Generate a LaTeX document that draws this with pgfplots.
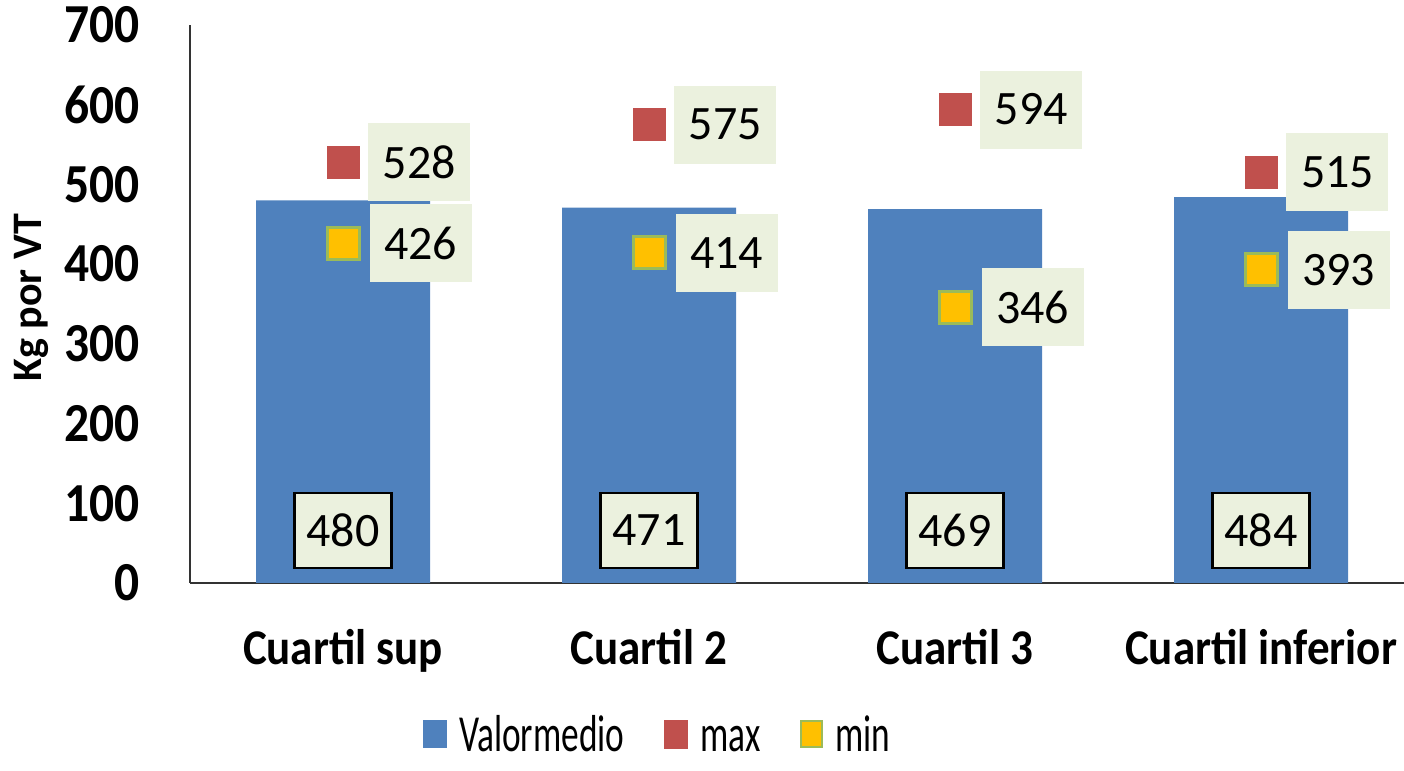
\documentclass[border=0pt]{standalone}
\usepackage{pgfplots}
\pgfplotsset{compat=1.18}
\usepackage{fontspec}
\setmainfont{Carlito}
\newfontfamily\tickfont[FakeStretch=0.9]{Carlito}
\newfontfamily\legfont[FakeStretch=0.68]{Carlito}
\definecolor{barblue}{HTML}{4F81BD}
\definecolor{maxred}{HTML}{C0504D}
\definecolor{minyel}{HTML}{FFC000}
\definecolor{mingreen}{HTML}{9BBB59}
\definecolor{lblgreen}{HTML}{EBF1DE}
\begin{document}
\begin{tikzpicture}
\useasboundingbox (0,0) rectangle (702pt,385.5pt);
\begin{axis}[
  at={(95pt,94pt)}, anchor=south west,
  scale only axis, width=607pt, height=279pt,
  xmin=-0.5, xmax=3.467, ymin=0, ymax=700,
  axis x line*=bottom, axis y line*=left,
  axis line style={line width=0.8pt, black!80},
  xtick={0,1,2,3},
  xticklabels={Cuartil sup, Cuartil 2, Cuartil 3, Cuartil inferior},
  ytick={0,100,...,700},
  major tick length=0pt,
  /pgf/number format/assume math mode=true,
  yticklabel style={font=\fontsize{27.5}{27.5}\selectfont\tickfont\bfseries, anchor=east, inner sep=0pt, xshift=-25pt},
  xticklabel style={font=\fontsize{25}{25}\selectfont\tickfont\bfseries, anchor=base, inner sep=0pt, yshift=-41pt},
  ylabel={Kg por VT},
  every axis y label/.style={at={(axis description cs:-0.131,0.511)}, rotate=90, anchor=center, font=\fontsize{21}{21}\selectfont\bfseries},
  legend columns=3,
  legend style={at={(axis description cs:0.192,-0.272)}, anchor=west, draw=none,
    inner sep=0pt, outer sep=0pt,
    font=\fontsize{26}{26}\selectfont\legfont,
    cells={anchor=base west},
    nodes={inner sep=0pt},
    /tikz/every odd column/.append style={column sep=6pt},
    /tikz/every even column/.append style={column sep=20pt}},
  clip=false,
]
\addplot[ybar, bar width=87pt, fill=barblue, draw=none,
  legend image code/.code={\fill[barblue] (0pt,1.5pt) rectangle (12pt,15.5pt);}]
  coordinates {(0,480) (1,471) (2,469) (3,484)};
\addlegendentry{Valormedio}
\addplot[only marks, mark=square*, mark size=8pt, mark options={fill=maxred, draw=maxred},
  nodes near coords,
  nodes near coords style={anchor=west, xshift=12.5pt, fill=lblgreen, minimum width=51pt, minimum height=39pt, inner sep=0pt, font=\fontsize{24}{24}\selectfont, text=black},
  legend image code/.code={\fill[maxred] (0pt,1.5pt) rectangle (11.5pt,15.5pt);}]
  coordinates {(0,528) (1,575) (2,594) (3,515)};
\addlegendentry{max}
\addplot[only marks, mark=square*, mark size=8pt, mark options={fill=minyel, draw=mingreen, line width=1.5pt},
  nodes near coords,
  nodes near coords style={anchor=west, xshift=12.5pt, fill=lblgreen, minimum width=51pt, minimum height=39pt, inner sep=0pt, font=\fontsize{24}{24}\selectfont, text=black},
  legend image code/.code={\filldraw[fill=minyel, draw=mingreen, line width=1pt] (0.5pt,2pt) rectangle (11pt,15pt);}]
  coordinates {(0,426) (1,414) (2,346) (3,393)};
\addlegendentry{min}
\addplot[draw=none, mark=none, forget plot, nodes near coords, point meta=explicit symbolic,
  nodes near coords style={anchor=center, draw=black, line width=1.2pt, fill=lblgreen, minimum width=48.5pt, minimum height=37.5pt, inner sep=0pt, font=\fontsize{24}{24}\selectfont, text=black}]
  coordinates {(0,66) [480] (1,66) [471] (2,66) [469] (3,66) [484]};
\end{axis}
\end{tikzpicture}
\end{document}
